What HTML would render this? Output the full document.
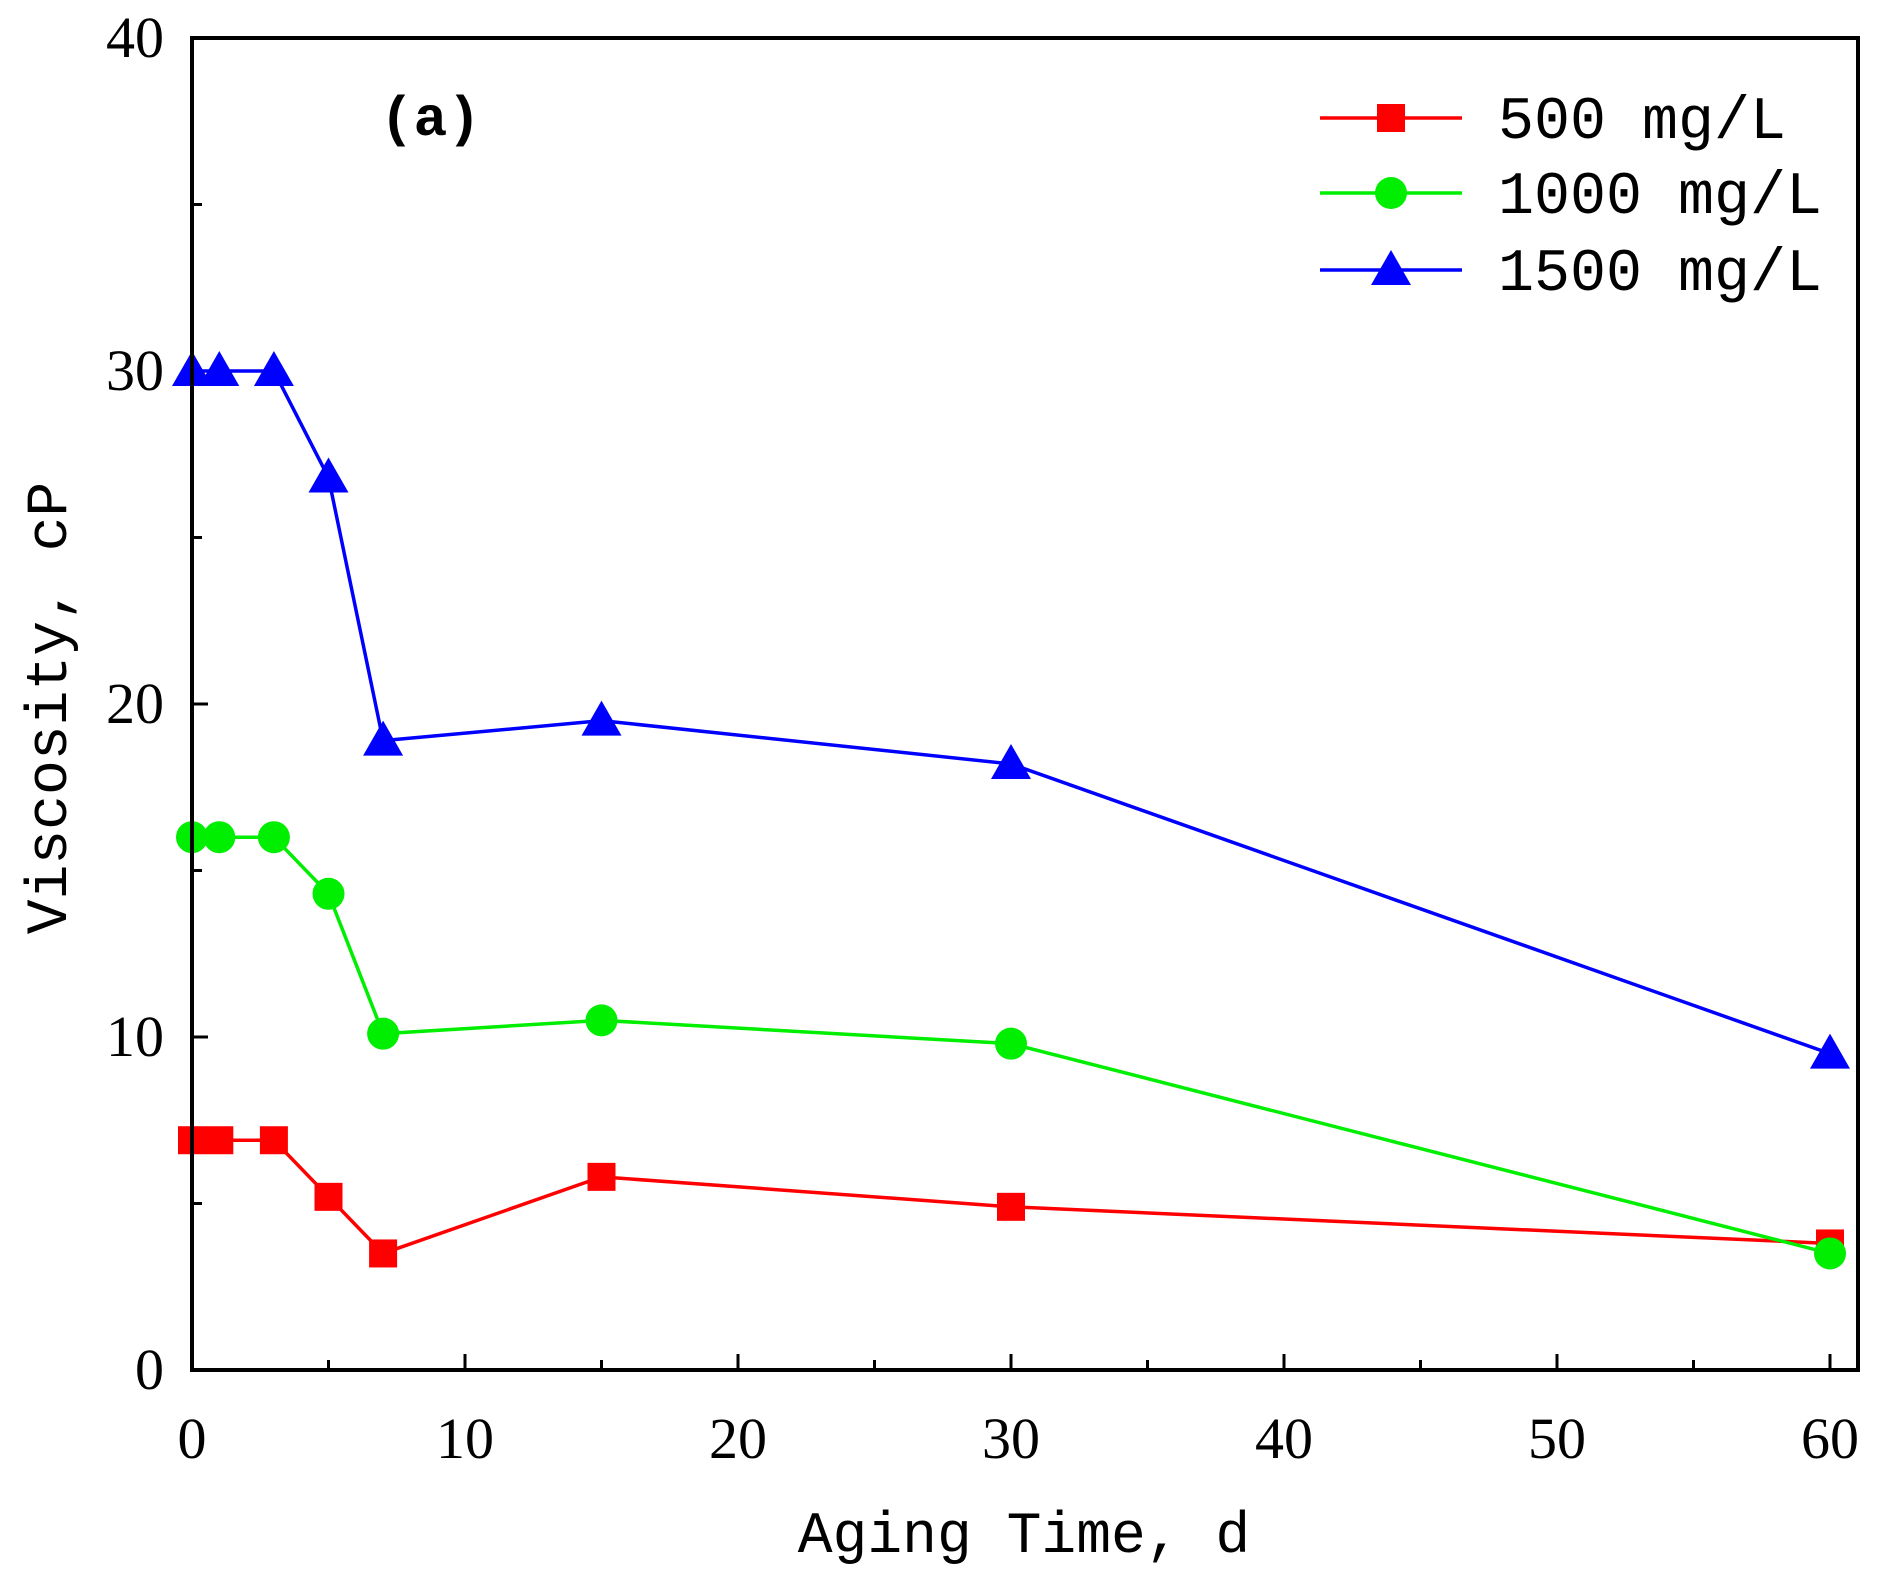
<!DOCTYPE html>
<html><head><meta charset="utf-8"><style>body{margin:0;background:#fff}svg{display:block}text{font-family:"Liberation Mono","Noto Serif CJK SC",monospace;fill:#000}.tk{font-family:"Liberation Serif","Noto Serif CJK SC",serif}</style></head>
<body>
<svg id="c" width="1877" height="1580" viewBox="0 0 1877 1580"></svg>
<script>
const xs=[0,1,3,5,7,15,30,60];
const s500=[6.9,6.9,6.9,5.2,3.5,5.8,4.9,3.8];
const s1000=[16,16,16,14.3,10.1,10.5,9.8,3.5];
const s1500=[30,30,30,26.8,18.9,19.5,18.2,9.5];
const xTicks=[0,10,20,30,40,50,60];
const yTicks=[0,10,20,30,40];
const L=192,R=1858,T=38,B=1370;
const X=v=>L+v*(1830-192)/60;
const Y=v=>B-v*(B-T)/40;
const svg=document.getElementById('c');
const NS='http://www.w3.org/2000/svg';
function mk(t,a,p){const e=document.createElementNS(NS,t);for(const k in a)e.setAttribute(k,a[k]);(p||svg).appendChild(e);return e;}
for(let v=0;v<=60;v+=5){const maj=v%10==0;const e=mk('line',{x1:X(v),x2:X(v),y1:B,y2:B-(maj?16:10),stroke:'#000','stroke-width':3});

}
for(let v=0;v<=40;v+=5){const maj=v%10==0;const e=mk('line',{x1:L,x2:L+(maj?16:10),y1:Y(v),y2:Y(v),stroke:'#000','stroke-width':3});

}
xTicks.forEach(v=>{const e=mk('text',{x:X(v),y:1458,'text-anchor':'middle','font-size':58,class:'tk'});e.textContent=v;

});
yTicks.forEach(v=>{const e=mk('text',{x:164,y:Y(v)+19,'text-anchor':'end','font-size':58,class:'tk'});e.textContent=v;

});
function series(vals,color,shape,name){
 const g=mk('g',{});
 
 
 mk('polyline',{points:xs.map((x,i)=>X(x)+','+Y(vals[i])).join(' '),fill:'none',stroke:color,'stroke-width':3.5},g);
 xs.forEach((x,i)=>marker(g,X(x),Y(vals[i]),color,shape));
}
function marker(g,cx,cy,color,shape){
 let e;
 if(shape=='sq')e=mk('rect',{x:cx-14,y:cy-14,width:28,height:28,fill:color},g);
 else if(shape=='ci')e=mk('circle',{cx:cx,cy:cy,r:16,fill:color},g);
 else e=mk('polygon',{points:`${cx},${cy-20} ${cx-20},${cy+15} ${cx+20},${cy+15}`,fill:color},g);
 
 
}
series(s500,'#ff0000','sq','series-500');
series(s1000,'#00ee00','ci','series-1000');
series(s1500,'#0000ff','tr','series-1500');
mk('rect',{x:L,y:T,width:R-L,height:B-T,fill:'none',stroke:'#000','stroke-width':4});
const leg=[['500 mg/L','#ff0000','sq',118],['1000 mg/L','#00ee00','ci',193],['1500 mg/L','#0000ff','tr',270]];
leg.forEach(l=>{const g=mk('g',{});
 
 
 mk('line',{x1:1320,x2:1462,y1:l[3],y2:l[3],stroke:l[1],'stroke-width':3.5},g);
 marker(g,1391,l[3],l[1],l[2]);
 const t=mk('text',{x:1498,y:l[3]+20,'font-size':60},g);t.textContent=l[0];});
const a=mk('text',{x:380,y:135,'font-size':56,'font-weight':'bold'});a.textContent='(a)';


const xt=mk('text',{x:1024,y:1552,'text-anchor':'middle','font-size':58});xt.textContent='Aging Time, d';


const yt=mk('text',{x:0,y:0,'text-anchor':'middle','font-size':58,transform:'translate(66,708) rotate(-90)'});yt.textContent='Viscosity, cP';


</script>
</body></html>
